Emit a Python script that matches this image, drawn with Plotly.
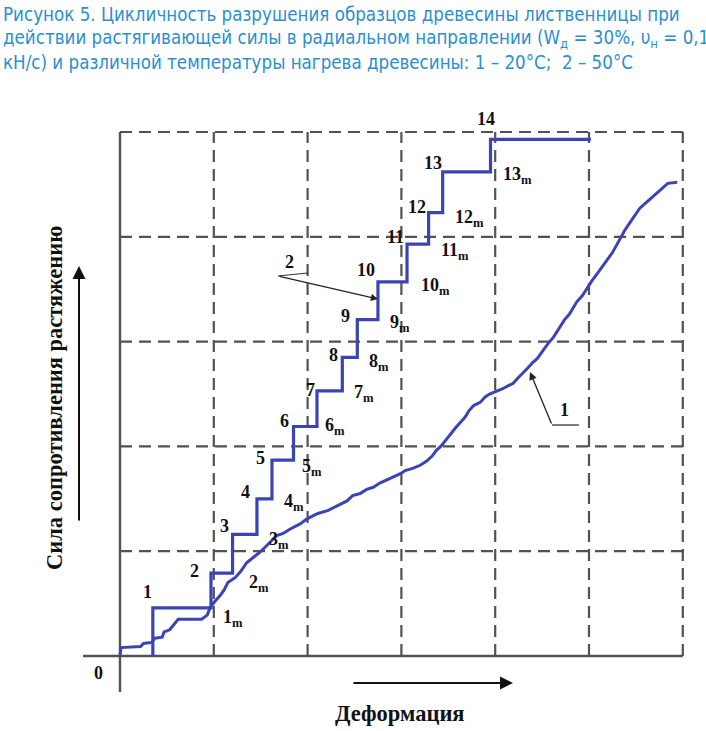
import plotly.graph_objects as go

# ---------------- data (axis units: deformation 0..6, force 0..5) ----------------
grid_x = [1, 2, 3, 4, 5, 6]
grid_y = [1, 2, 3, 4, 5]

# curve 2 (50 °C) - stepwise
c2_x = [0.35, 0.97, 1.20, 1.46, 1.62, 1.85, 2.10, 2.37, 2.53, 2.75, 3.06, 3.29, 3.44, 3.95, 5.02]
c2_y = [0.00, 0.46, 0.79, 1.16, 1.50, 1.87, 2.19, 2.53, 2.85, 3.21, 3.57, 3.93, 4.23, 4.62, 4.93]

# curve 1 (20 °C) - wavy
c1_x = [0, 0.01, 0.22, 0.25, 0.34, 0.37, 0.45, 0.47, 0.53, 0.59, 0.62, 0.87, 0.93, 0.96, 1.01,
        1.07, 1.11, 1.15, 1.23, 1.29, 1.35, 1.42, 1.49, 1.56, 1.62, 1.67, 1.74, 1.81, 1.92, 1.98,
        2.04, 2.11, 2.22, 2.31, 2.42, 2.48, 2.56, 2.63, 2.70, 2.77, 2.85, 2.91, 2.99, 3.04, 3.12,
        3.20, 3.27, 3.33, 3.37, 3.42, 3.48, 3.54, 3.58, 3.64, 3.68, 3.72, 3.77, 3.84, 3.89, 3.94,
        4.00, 4.08, 4.14, 4.19, 4.24, 4.30, 4.35, 4.40, 4.45, 4.49, 4.53, 4.57, 4.62, 4.66, 4.70,
        4.74, 4.79, 4.83, 4.87, 4.93, 4.98, 5.03, 5.09, 5.14, 5.19, 5.25, 5.30, 5.34, 5.38, 5.44,
        5.49, 5.54, 5.60, 5.65, 5.70, 5.76, 5.80, 5.84, 5.94]
c1_y = [0, 0.08, 0.09, 0.12, 0.13, 0.17, 0.18, 0.23, 0.25, 0.32, 0.35, 0.35, 0.39, 0.46, 0.52,
        0.58, 0.63, 0.70, 0.75, 0.81, 0.89, 0.94, 0.99, 1.05, 1.10, 1.15, 1.17, 1.21, 1.26, 1.30,
        1.33, 1.36, 1.39, 1.43, 1.48, 1.53, 1.55, 1.59, 1.61, 1.65, 1.68, 1.71, 1.74, 1.77, 1.79,
        1.82, 1.86, 1.91, 1.96, 2.00, 2.07, 2.13, 2.18, 2.24, 2.28, 2.34, 2.39, 2.42, 2.47, 2.50,
        2.52, 2.55, 2.58, 2.60, 2.65, 2.70, 2.75, 2.80, 2.84, 2.89, 2.94, 2.99, 3.04, 3.10, 3.15,
        3.21, 3.26, 3.32, 3.38, 3.44, 3.51, 3.58, 3.65, 3.71, 3.77, 3.85, 3.93, 4.00, 4.06, 4.14,
        4.21, 4.27, 4.32, 4.36, 4.40, 4.44, 4.48, 4.51, 4.52]

step_labels = ["1", "2", "3", "4", "5", "6", "7", "8", "9", "10", "11", "12", "13", "14"]
step_lx = [0.288, 0.789, 1.109, 1.333, 1.493, 1.759, 2.026, 2.271, 2.399, 2.623, 2.942, 3.166, 3.337, 3.902]
step_ly = [0.611, 0.811, 1.240, 1.565, 1.889, 2.242, 2.538, 2.872, 3.244, 3.683, 3.998, 4.284, 4.704, 5.124]

m_labels = ["1", "2", "3", "4", "5", "6", "7", "8", "9", "10", "11", "12", "13"]
m_lx = [1.077, 1.354, 1.567, 1.727, 1.919, 2.164, 2.473, 2.633, 2.857, 3.188, 3.401, 3.550, 4.062]
m_ly = [0.391, 0.716, 1.135, 1.489, 1.832, 2.214, 2.529, 2.834, 3.197, 3.550, 3.884, 4.208, 4.618]

title_lines = [
    "Рисунок 5. Цикличность разрушения образцов древесины лиственницы при",
    "действии растягивающей силы в радиальном направлении (W<sub>д</sub> = 30%, υ<sub>н</sub> = 0,1",
    "кН/с) и различной температуры нагрева древесины: 1 – 20°С;  2 – 50°С",
]
y_title = "Сила сопротивления растяжению"
x_title = "Деформация"

# ---------------- styles ----------------
BLUE = "#3a45b3"
GRID = "#525252"
SERIF = "Liberation Serif, Times New Roman, serif"
TITLE_FONT = "Liberation Sans Narrow, DejaVu Sans Condensed, Arial Narrow, Liberation Sans, sans-serif"
TITLE_COLOR = "#2b8fcf"

fig = go.Figure()

fig.add_trace(go.Scatter(x=c1_x, y=c1_y, mode="lines", line=dict(color=BLUE, width=3),
                         hoverinfo="skip", showlegend=False))
fig.add_trace(go.Scatter(x=c2_x, y=c2_y, mode="lines", line=dict(color=BLUE, width=3.2, shape="vh"),
                         hoverinfo="skip", showlegend=False))

shapes = []
dash = "12px,7px"
for gx in grid_x:
    shapes.append(dict(type="line", x0=gx, x1=gx, y0=0, y1=5, layer="below",
                       line=dict(color=GRID, width=2.2, dash=dash)))
for gy in grid_y:
    shapes.append(dict(type="line", x0=0, x1=6, y0=gy, y1=gy, layer="below",
                       line=dict(color=GRID, width=2.2, dash=dash)))
# main axes
shapes.append(dict(type="line", x0=0, x1=0, y0=5, y1=-0.344, layer="below",
                   line=dict(color=GRID, width=2.4)))
shapes.append(dict(type="line", x0=-0.394, x1=6, y0=0, y1=0, layer="below",
                   line=dict(color=GRID, width=2.4)))
# leader lines
shapes.append(dict(type="line", x0=1.684, y0=3.626, x1=2.004, y1=3.655,
                   line=dict(color="#333333", width=1)))
shapes.append(dict(type="line", x0=4.606, y0=2.204, x1=4.893, y1=2.204,
                   line=dict(color="#333333", width=1.3)))

ann = []
for t, x, y in zip(step_labels, step_lx, step_ly):
    ann.append(dict(x=x, y=y, text="<b>%s</b>" % t, showarrow=False, xanchor="center", yanchor="middle",
                    font=dict(family=SERIF, size=18, color="#111111")))
for t, x, y in zip(m_labels, m_lx, m_ly):
    ann.append(dict(x=x, y=y, text="<b>%s<sub>m</sub></b>" % t, showarrow=False, xanchor="left",
                    yanchor="middle", yshift=-3, font=dict(family=SERIF, size=18, color="#111111")))
ann.append(dict(x=-0.224, y=-0.162, text="<b>0</b>", showarrow=False,
                font=dict(family=SERIF, size=18, color="#111111")))
ann.append(dict(x=1.802, y=3.760, text="<b>2</b>", showarrow=False,
                font=dict(family=SERIF, size=18, color="#111111")))
ann.append(dict(x=4.744, y=2.347, text="<b>1</b>", showarrow=False,
                font=dict(family=SERIF, size=18, color="#111111")))
# leader arrows
ann.append(dict(x=2.751, y=3.406, ax=1.684, ay=3.626, axref="x", ayref="y", text="", showarrow=True,
                arrowhead=2, arrowsize=1.2, arrowwidth=1.2, arrowcolor="#222222", standoff=0))
ann.append(dict(x=4.371, y=2.710, ax=4.606, ay=2.204, axref="x", ayref="y", text="", showarrow=True,
                arrowhead=2, arrowsize=1.2, arrowwidth=1.3, arrowcolor="#222222", standoff=0))
# axis arrows
ann.append(dict(x=-0.437, y=3.721, ax=-0.437, ay=1.279, axref="x", ayref="y", text="", showarrow=True,
                arrowhead=2, arrowsize=1.3, arrowwidth=2, arrowcolor="#111111", standoff=0))
ann.append(dict(x=4.190, y=-0.258, ax=2.473, ay=-0.258, axref="x", ayref="y", text="", showarrow=True,
                arrowhead=2, arrowsize=1.3, arrowwidth=2, arrowcolor="#111111", standoff=0))
# axis titles
ann.append(dict(x=-0.693, y=2.462, text="<b>%s</b>" % y_title, textangle=-90, showarrow=False,
                font=dict(family=SERIF, size=22.5, color="#111111")))
ann.append(dict(x=2.985, y=-0.544, text="<b>%s</b>" % x_title, showarrow=False,
                font=dict(family=SERIF, size=22.5, color="#111111")))
# title
for i, (line, py) in enumerate(zip(title_lines, [15, 39, 62])):
    ann.append(dict(xref="paper", yref="paper", x=0.002, y=1 - py / 731, text=line, showarrow=False,
                    xanchor="left", yanchor="middle", font=dict(family=TITLE_FONT, size=18.6, color=TITLE_COLOR)))

fig.update_layout(
    width=706, height=731, autosize=False,
    margin=dict(l=0, r=0, t=0, b=0, pad=0),
    paper_bgcolor="white", plot_bgcolor="white",
    xaxis=dict(range=[-1.2793, 6.2473], visible=False, fixedrange=True),
    yaxis=dict(range=[-0.7156, 6.2595], visible=False, fixedrange=True),
    shapes=shapes, annotations=ann,
)

fig.write_html("out.html", config={"displayModeBar": False},
               post_script="document.body.style.margin='0';document.body.style.padding='0';document.body.style.overflow='hidden';")
